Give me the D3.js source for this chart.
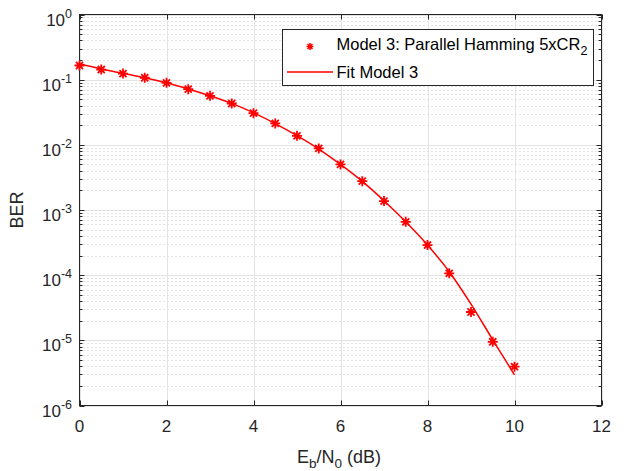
<!DOCTYPE html>
<html>
<head>
<meta charset="utf-8">
<script src="https://cdn.jsdelivr.net/npm/d3@7"></script>
<style>
  html, body { margin: 0; padding: 0; background: #fff; }
  svg { display: block; font-family: "Liberation Sans", Arial, sans-serif; }
</style>
</head>
<body>
<svg id="chart" width="625" height="471"></svg>
<script>
// Simulated BER points for the parallel Hamming scheme
const ebn0 = [0, 0.5, 1, 1.5, 2, 2.5, 3, 3.5, 4, 4.5, 5, 5.5, 6, 6.5, 7, 7.5, 8, 8.5, 9, 9.5, 10];
const berModel = [0.165, 0.143, 0.124, 0.107, 0.0893, 0.0715, 0.0565, 0.0431, 0.0306, 0.0213,
                  0.01374, 0.00881, 0.0050, 0.00277, 0.00137, 0.000659, 0.00029, 0.0001066,
                  2.72e-5, 9.5e-6, 3.94e-6];
// Fitted curve
const berFit = [0.175, 0.146, 0.125, 0.107, 0.0895, 0.0720, 0.0565, 0.0432, 0.0310, 0.0212,
                0.0138, 0.0086, 0.0050, 0.00275, 0.00139, 0.00066, 0.00029, 0.000113,
                3.6e-5, 1.02e-5, 2.94e-6];
const xTicks = [0, 2, 4, 6, 8, 10, 12];
const yExponents = [0, -1, -2, -3, -4, -5, -6];
const legendLabels = ["Model 3: Parallel Hamming 5xCR", "Fit Model 3"];

const svg = d3.select("#chart");
const margin = { left: 79.5, right: 601.5, top: 14.5, bottom: 405.5 };
const x = d3.scaleLinear().domain([0, 12]).range([margin.left, margin.right]);
const y = d3.scaleLog().domain([1e-6, 1]).range([margin.bottom, margin.top]);
const axisColor = "#262626";
const red = "#ff0000";
const fs = 17, fsSmall = 12.5, fsLegend = 16.5;

// minor grid (dotted) at 2..9 of each decade
const minorVals = [];
for (let e = -6; e < 0; e++) for (let k = 2; k <= 9; k++) minorVals.push(k * Math.pow(10, e));

const grid = svg.append("g");
grid.selectAll("line.minor").data(minorVals).join("line")
  .attr("x1", margin.left).attr("x2", margin.right)
  .attr("y1", d => Math.round(y(d)) + 0.5).attr("y2", d => Math.round(y(d)) + 0.5)
  .attr("stroke", "#c8c8c8").attr("stroke-width", 1).attr("stroke-dasharray", "1,3");
grid.selectAll("line.hmaj").data(yExponents.map(e => Math.pow(10, e))).join("line")
  .attr("x1", margin.left).attr("x2", margin.right)
  .attr("y1", d => Math.round(y(d)) + 0.5).attr("y2", d => Math.round(y(d)) + 0.5)
  .attr("stroke", "#e3e3e3").attr("stroke-width", 1);
grid.selectAll("line.vmaj").data(xTicks).join("line")
  .attr("x1", d => Math.round(x(d)) + 0.5).attr("x2", d => Math.round(x(d)) + 0.5)
  .attr("y1", margin.top).attr("y2", margin.bottom)
  .attr("stroke", "#e3e3e3").attr("stroke-width", 1);

// axes box
const axes = svg.append("g");
axes.append("rect")
  .attr("x", margin.left).attr("y", margin.top)
  .attr("width", margin.right - margin.left).attr("height", margin.bottom - margin.top)
  .attr("fill", "none").attr("stroke", axisColor).attr("stroke-width", 1);

// x ticks (inside, bottom and top)
xTicks.forEach(t => {
  const px = Math.round(x(t)) + 0.5;
  axes.append("line").attr("x1", px).attr("x2", px).attr("y1", margin.bottom).attr("y2", margin.bottom - 5)
    .attr("stroke", axisColor);
  axes.append("line").attr("x1", px).attr("x2", px).attr("y1", margin.top).attr("y2", margin.top + 5)
    .attr("stroke", axisColor);
  axes.append("text").attr("x", x(t)).attr("y", 432).attr("text-anchor", "middle")
    .attr("font-size", fs).attr("fill", axisColor).text(t);
});

// y ticks (major and minor, inside, left and right)
yExponents.forEach(e => {
  const py = Math.round(y(Math.pow(10, e))) + 0.5;
  axes.append("line").attr("x1", margin.left).attr("x2", margin.left + 5).attr("y1", py).attr("y2", py).attr("stroke", axisColor);
  axes.append("line").attr("x1", margin.right).attr("x2", margin.right - 5).attr("y1", py).attr("y2", py).attr("stroke", axisColor);
  const t = axes.append("text").attr("x", 72).attr("y", py + 10.5).attr("text-anchor", "end")
    .attr("fill", axisColor).attr("font-size", fs);
  t.append("tspan").text("10");
  t.append("tspan").attr("dy", -8.5).attr("font-size", fsSmall).text(e);
});
minorVals.forEach(v => {
  const py = Math.round(y(v)) + 0.5;
  axes.append("line").attr("x1", margin.left).attr("x2", margin.left + 3).attr("y1", py).attr("y2", py).attr("stroke", axisColor);
  axes.append("line").attr("x1", margin.right).attr("x2", margin.right - 3).attr("y1", py).attr("y2", py).attr("stroke", axisColor);
});

// axis labels
svg.append("text").attr("transform", "translate(23,210) rotate(-90)")
  .attr("text-anchor", "middle").attr("font-size", 18).attr("fill", axisColor).text("BER");
const xl = svg.append("text").attr("x", 339).attr("y", 463).attr("text-anchor", "middle")
  .attr("font-size", 18).attr("fill", axisColor);
xl.append("tspan").text("E");
xl.append("tspan").attr("dy", 5).attr("font-size", 13.5).text("b");
xl.append("tspan").attr("dy", -5).text("/N");
xl.append("tspan").attr("dy", 5).attr("font-size", 13.5).text("0");
xl.append("tspan").attr("dy", -5).text(" (dB)");

// fitted curve
const fitData = ebn0.map((d, i) => [d, berFit[i]]);
const line = d3.line().x(d => x(d[0])).y(d => y(d[1])).curve(d3.curveMonotoneX);
svg.append("path").datum(fitData).attr("d", line)
  .attr("fill", "none").attr("stroke", red).attr("stroke-width", 1.5);

// asterisk marker
function asterisk(cx, cy, r) {
  const d = r * Math.SQRT1_2;
  return `M${cx - r},${cy}L${cx + r},${cy}M${cx},${cy - r}L${cx},${cy + r}` +
         `M${cx - d},${cy - d}L${cx + d},${cy + d}M${cx - d},${cy + d}L${cx + d},${cy - d}`;
}
svg.append("g").selectAll("path").data(ebn0.map((d, i) => [d, berModel[i]])).join("path")
  .attr("d", d => asterisk(x(d[0]), y(d[1]), 5))
  .attr("fill", "none").attr("stroke", red).attr("stroke-width", 1.8);

// legend
const lg = svg.append("g");
lg.append("rect").attr("x", 282.5).attr("y", 29.5).attr("width", 311).attr("height", 56)
  .attr("fill", "#fff").attr("stroke", axisColor).attr("stroke-width", 1);
lg.append("path").attr("d", asterisk(310, 46.5, 3.5)).attr("stroke", red).attr("stroke-width", 1.5).attr("fill", "none");
lg.append("line").attr("x1", 287).attr("x2", 333).attr("y1", 72).attr("y2", 72)
  .attr("stroke", red).attr("stroke-width", 1.5);
const t1 = lg.append("text").attr("x", 336.5).attr("y", 50).attr("font-size", fsLegend).attr("fill", "#000");
t1.append("tspan").text(legendLabels[0]);
t1.append("tspan").attr("dy", 5).attr("font-size", fsSmall).text("2");
lg.append("text").attr("x", 336.5).attr("y", 78).attr("font-size", fsLegend).attr("fill", "#000").text(legendLabels[1]);
</script>
</body>
</html>
